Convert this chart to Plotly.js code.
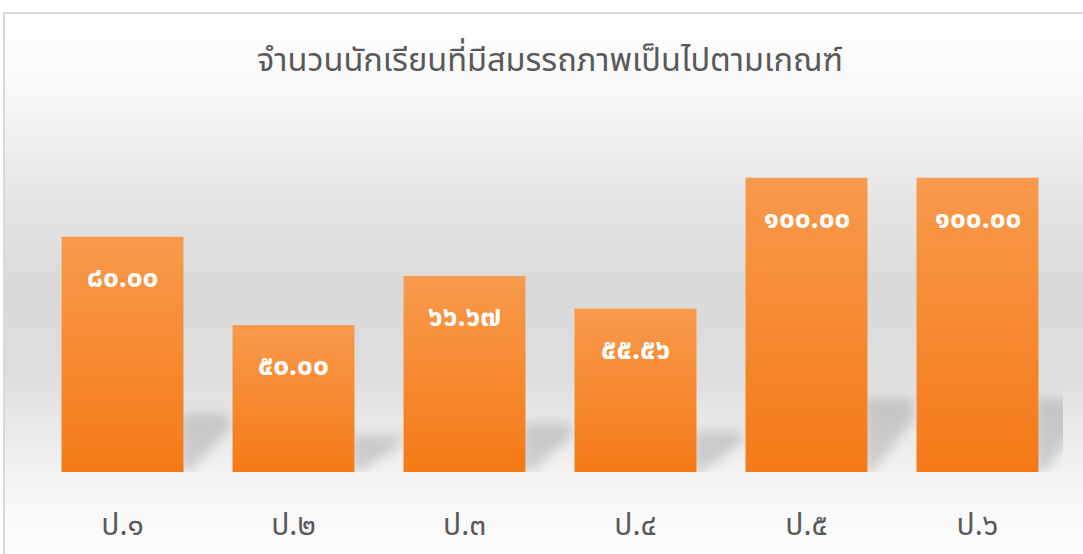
<!DOCTYPE html>
<html>
<head>
<meta charset="utf-8">
<script src="https://cdn.plot.ly/plotly-3.0.1.min.js"></script>
<style>
  html, body { margin: 0; padding: 0; width: 1083px; height: 554px; overflow: hidden; background: #ffffff; }
  #bg {
    position: absolute; left: 3px; top: 12px; width: 1200px; height: 700px;
    border-left: 2px solid #D9D9D9; border-top: 2px solid #D9D9D9;
    background: linear-gradient(to bottom, #FFFFFF 0px, #F8F8F8 80px, #E6E6E6 180px, #D9D9D9 275px, #DEDEDE 360px, #EDEDED 430px, #F7F7F7 480px, #FDFDFD 540px);
  }
  #chart { position: absolute; left: 0; top: 0; width: 1083px; height: 554px; }
</style>
</head>
<body>
<div id="bg"></div>
<div id="chart"></div>
<script>
// ---- data ----
var categories = ["ป.๑", "ป.๒", "ป.๓", "ป.๔", "ป.๕", "ป.๖"];
var values = [80.00, 50.00, 66.67, 55.56, 100.00, 100.00];
var chartTitle = "จำนวนนักเรียนที่มีสมรรถภาพเป็นไปตามเกณฑ์";

var thaiDigits = ["๐","๑","๒","๓","๔","๕","๖","๗","๘","๙"];
function toThai(n) {
  return n.toFixed(2).replace(/[0-9]/g, function (d) { return thaiDigits[+d]; });
}

var xs = categories.map(function (_, i) { return i; });
var bargap = 0.287;
var halfW = (1 - bargap) / 2;
var FONT = "Tahoma, 'Leelawadee UI', 'Noto Sans Thai', sans-serif";

// perspective shadows derived from bar values
var shadowTraces = values.map(function (v, i) {
  var h = 0.25 * v;
  var R = i + halfW;
  return {
    type: "scatter", mode: "lines", hoverinfo: "skip", showlegend: false,
    x: [R - 0.02, R - 0.02, R + 0.27, R + 0.27, R + 0.03, R - 0.02],
    y: [0, h, h, 0.72 * h, 0, 0],
    fill: "toself", fillcolor: "rgba(130,130,130,0.33)",
    line: { width: 0, color: "rgba(0,0,0,0)" }
  };
});

var barTrace = {
  type: "bar", x: xs, y: values, showlegend: false, hoverinfo: "skip",
  marker: { color: "#F68A33", line: { width: 0 } }
};

var annotations = values.map(function (v, i) {
  return {
    x: i, y: v, xref: "x", yref: "y", yshift: -42, showarrow: false,
    text: "<b>" + toThai(v) + "</b>",
    font: { family: FONT, size: 28, color: "#FFFFFF" }
  };
});

var layout = {
  width: 1083, height: 554,
  margin: { l: 37, r: 20, t: 119, b: 82 },
  paper_bgcolor: "rgba(0,0,0,0)", plot_bgcolor: "rgba(0,0,0,0)",
  bargap: bargap,
  title: {
    text: chartTitle, x: 0.5, xref: "paper", y: 63, yref: "container", yanchor: "middle",
    font: { family: FONT, size: 32.5, color: "#595959" }
  },
  xaxis: {
    range: [-0.5, 5.5], tickvals: xs, ticktext: categories,
    showgrid: false, zeroline: false, showline: false, ticks: "",
    ticklabelstandoff: 32,
    tickfont: { family: FONT, size: 30, color: "#595959" }, fixedrange: true
  },
  yaxis: {
    range: [0, 120], visible: false, showgrid: false, zeroline: false, fixedrange: true
  },
  annotations: annotations
};

Plotly.newPlot("chart", shadowTraces.concat([barTrace]), layout, { displayModeBar: false, staticPlot: true }).then(function () {
  var svg = document.querySelector("#chart .main-svg");
  var ns = "http://www.w3.org/2000/svg";
  var defs = svg.querySelector("defs") || svg.insertBefore(document.createElementNS(ns, "defs"), svg.firstChild);
  var grad = document.createElementNS(ns, "linearGradient");
  grad.setAttribute("id", "barGrad");
  grad.setAttribute("x1", "0"); grad.setAttribute("y1", "0");
  grad.setAttribute("x2", "0"); grad.setAttribute("y2", "1");
  [["0", "#F89A4C"], ["1", "#F57A17"]].forEach(function (s) {
    var st = document.createElementNS(ns, "stop");
    st.setAttribute("offset", s[0]); st.setAttribute("stop-color", s[1]);
    grad.appendChild(st);
  });
  defs.appendChild(grad);
  var filt = document.createElementNS(ns, "filter");
  filt.setAttribute("id", "shadowBlur");
  filt.setAttribute("x", "-50%"); filt.setAttribute("y", "-50%");
  filt.setAttribute("width", "200%"); filt.setAttribute("height", "200%");
  var blur = document.createElementNS(ns, "feGaussianBlur");
  blur.setAttribute("stdDeviation", "6");
  filt.appendChild(blur);
  defs.appendChild(filt);
  svg.querySelectorAll(".barlayer .point path").forEach(function (p) {
    p.style.fill = "url(#barGrad)";
  });
  svg.querySelectorAll(".scatterlayer .fills path").forEach(function (p) {
    p.setAttribute("filter", "url(#shadowBlur)");
  });
  var sl = svg.querySelector(".scatterlayer");
  var bl = svg.querySelector(".barlayer");
  if (sl && bl) bl.parentNode.insertBefore(sl, bl);
});
</script>
</body>
</html>
